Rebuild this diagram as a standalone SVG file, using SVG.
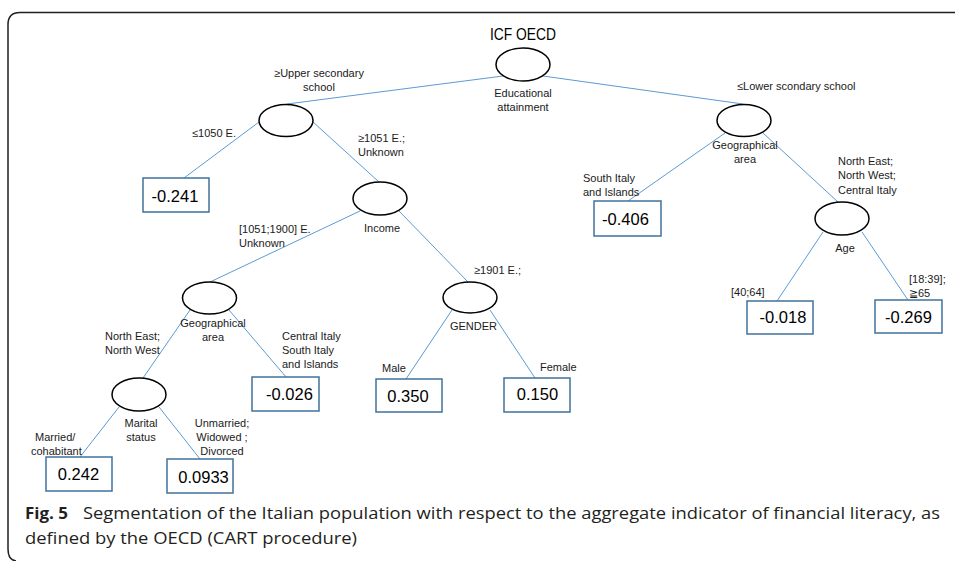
<svg xmlns="http://www.w3.org/2000/svg" width="955" height="561" viewBox="0 0 955 561">
<style>
.lbl{font-family:"Liberation Sans",Arial,sans-serif;font-size:11px;fill:#1a1a1a}
.c{text-anchor:middle}
.val{font-family:"Liberation Sans",Arial,sans-serif;font-size:16.5px;fill:#000;text-anchor:middle}
.node ellipse{fill:#fff;stroke:#000;stroke-width:1.5}
.leaf rect{fill:#fff;stroke:#41719c;stroke-width:1.5}
#connectors line{stroke:#5b9bd5;stroke-width:1}
.cap{font-family:"Open Sans","Liberation Sans",sans-serif;font-size:16px;fill:#231f20}
</style>
<rect width="955" height="561" fill="#fff"/>
<path d="M955 12.5 H20 Q8 12.5 8 24.5 V549 Q8 560 16 561" fill="none" stroke="#231f20" stroke-width="1.5"/>

<g id="connectors">
<line x1="503" y1="76" x2="287" y2="104"/>
<line x1="543" y1="76" x2="743" y2="104"/>
<line x1="259" y1="122" x2="184" y2="178"/>
<line x1="313" y1="122" x2="379" y2="182"/>
<line x1="725" y1="133" x2="628" y2="201"/>
<line x1="763" y1="133" x2="838" y2="202"/>
<line x1="823" y1="232" x2="777" y2="301"/>
<line x1="862" y1="232" x2="908" y2="300"/>
<line x1="360" y1="211" x2="210" y2="282"/>
<line x1="399" y1="211" x2="468" y2="282"/>
<line x1="452" y1="310" x2="406" y2="379"/>
<line x1="490" y1="310" x2="535" y2="378"/>
<line x1="190" y1="310" x2="143" y2="378"/>
<line x1="229" y1="310" x2="286" y2="377"/>
<line x1="119" y1="407" x2="80" y2="457"/>
<line x1="159" y1="407" x2="200" y2="459"/>
</g>

<g id="edge-labels">
<text class="lbl c" x="319" y="77">≥Upper secondary</text>
<text class="lbl c" x="319" y="91">school</text>
<text class="lbl" x="737" y="90">≤Lower scondary school</text>
<text class="lbl" x="192" y="137">≤1050 E.</text>
<text class="lbl" x="358" y="142">≥1051 E.;</text>
<text class="lbl" x="358" y="156">Unknown</text>
<text class="lbl" x="239" y="233">[1051;1900] E.</text>
<text class="lbl" x="239" y="247">Unknown</text>
<text class="lbl" x="583" y="182">South Italy</text>
<text class="lbl" x="583" y="196">and Islands</text>
<text class="lbl" x="838" y="165">North East;</text>
<text class="lbl" x="838" y="179">North West;</text>
<text class="lbl" x="838" y="194">Central Italy</text>
<text class="lbl" x="731" y="296">[40;64]</text>
<text class="lbl" x="909" y="283">[18:39];</text>
<text class="lbl" x="909" y="297">≧65</text>
<text class="lbl" x="474" y="274">≥1901 E.;</text>
<text class="lbl" x="382" y="372">Male</text>
<text class="lbl" x="540" y="371">Female</text>
<text class="lbl" x="105" y="340">North East;</text>
<text class="lbl" x="105" y="354">North West</text>
<text class="lbl" x="282" y="340">Central Italy</text>
<text class="lbl" x="282" y="354">South Italy</text>
<text class="lbl" x="282" y="368">and Islands</text>
<text class="lbl" x="35" y="441">Married/</text>
<text class="lbl" x="31" y="455">cohabitant</text>
<text class="lbl c" x="222" y="427">Unmarried;</text>
<text class="lbl c" x="222" y="441">Widowed ;</text>
<text class="lbl c" x="222" y="455">Divorced</text>
</g>

<g id="root" class="node">
<text x="523" y="40" font-family="Liberation Sans,Arial,sans-serif" font-size="16" text-anchor="middle" textLength="66" lengthAdjust="spacingAndGlyphs">ICF OECD</text>
<ellipse cx="523" cy="64.5" rx="27" ry="16.5"/>
<text class="lbl c" x="523" y="97">Educational</text>
<text class="lbl c" x="523" y="111">attainment</text>
</g>
<g id="n-upper" class="node"><ellipse cx="286" cy="120.5" rx="27" ry="16"/></g>
<g id="n-lower" class="node">
<ellipse cx="744" cy="120.5" rx="27" ry="16"/>
<text class="lbl c" x="745" y="149">Geographical</text>
<text class="lbl c" x="745" y="163">area</text>
</g>
<g id="n-income" class="node">
<ellipse cx="380" cy="198.5" rx="27" ry="16.5"/>
<text class="lbl c" x="382" y="232">Income</text>
</g>
<g id="n-age" class="node">
<ellipse cx="842" cy="218.5" rx="27" ry="16.5"/>
<text class="lbl c" x="845" y="252">Age</text>
</g>
<g id="n-geo" class="node">
<ellipse cx="209.5" cy="298" rx="27" ry="16"/>
<text class="lbl c" x="213" y="327">Geographical</text>
<text class="lbl c" x="213" y="341">area</text>
</g>
<g id="n-gender" class="node">
<ellipse cx="470" cy="297.5" rx="27" ry="15.5"/>
<text class="lbl c" x="473.5" y="330">GENDER</text>
</g>
<g id="n-marital" class="node">
<ellipse cx="139" cy="394.5" rx="27" ry="16.5"/>
<text class="lbl c" x="141" y="427">Marital</text>
<text class="lbl c" x="141" y="441">status</text>
</g>

<g id="leaf-m0241" class="leaf"><rect x="143" y="178" width="66" height="34"/><text class="val" x="175" y="202">-0.241</text></g>
<g id="leaf-m0406" class="leaf"><rect x="594" y="201" width="67" height="35"/><text class="val" x="625.5" y="225">-0.406</text></g>
<g id="leaf-m0018" class="leaf"><rect x="747" y="301" width="66" height="33"/><text class="val" x="783" y="323">-0.018</text></g>
<g id="leaf-m0269" class="leaf"><rect x="875" y="300" width="67" height="33"/><text class="val" x="908.5" y="323">-0.269</text></g>
<g id="leaf-0350" class="leaf"><rect x="376" y="379" width="66" height="33"/><text class="val" x="408" y="402">0.350</text></g>
<g id="leaf-0150" class="leaf"><rect x="504" y="378" width="66" height="34"/><text class="val" x="537.5" y="400">0.150</text></g>
<g id="leaf-m0026" class="leaf"><rect x="252" y="377" width="67" height="34"/><text class="val" x="289.5" y="400">-0.026</text></g>
<g id="leaf-0242" class="leaf"><rect x="46" y="457" width="66" height="34"/><text class="val" x="78.5" y="480">0.242</text></g>
<g id="leaf-00933" class="leaf"><rect x="167" y="459" width="66" height="34"/><text class="val" x="203.5" y="483">0.0933</text></g>

<g id="caption">
<text class="cap" x="25" y="519" font-weight="bold" textLength="43" lengthAdjust="spacingAndGlyphs">Fig. 5</text>
<text class="cap" x="83" y="519" textLength="857" lengthAdjust="spacingAndGlyphs">Segmentation of the Italian population with respect to the aggregate indicator of financial literacy, as</text>
<text class="cap" x="25" y="544" textLength="332" lengthAdjust="spacingAndGlyphs">defined by the OECD (CART procedure)</text>
</g>
</svg>
